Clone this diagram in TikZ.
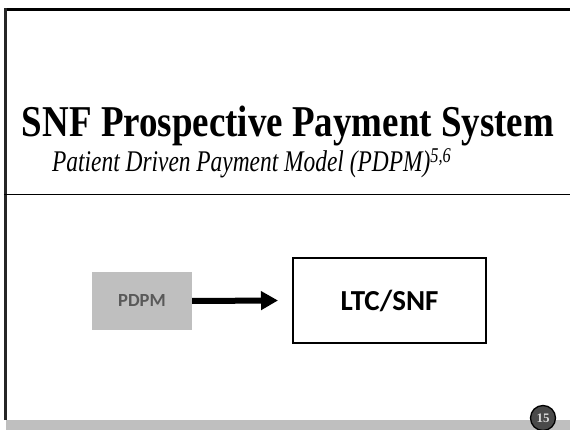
\documentclass[tikz,border=0pt]{standalone}
\usepackage{fontspec}
\setmainfont{Liberation Serif}
\newfontfamily\calibri{Carlito}
\usetikzlibrary{arrows.meta}
\definecolor{barGray}{HTML}{BFBFBF}
\definecolor{boxGray}{HTML}{BFBFBF}
\definecolor{labelGray}{HTML}{595959}
\definecolor{badgeFill}{HTML}{4A4A4A}
\definecolor{badgeText}{HTML}{D9D9D9}
\tikzset{
  frameline/.style={line width=2.5pt, black},
  graybox/.style={fill=boxGray, draw=none, minimum width=100pt, minimum height=58pt,
    font=\calibri\bfseries\fontsize{18.5}{20}\selectfont, text=labelGray},
  whitebox/.style={draw=black, line width=2pt, fill=white, minimum width=193pt, minimum height=85pt,
    font=\calibri\bfseries\fontsize{29}{32}\selectfont},
  flowarrow/.style={line width=6pt, -{Triangle[length=17pt,width=18pt]}},
}
\begin{document}
\begin{tikzpicture}[x=1pt,y=-1pt]
  \useasboundingbox (0,0) rectangle (570,430);
  \fill[white] (0,0) rectangle (570,430);
  % footer bar
  \fill[barGray] (6,420) rectangle (570,430);
  % slide frame
  \draw[frameline] (5.5,9.5) -- (570,9.5);
  \draw[frameline, black!85] (5.5,8.5) -- (5.5,420);
  \draw[line width=1pt] (4,195) -- (570,195);
  % title block
  \node[anchor=base, inner sep=0pt, xscale=0.84, transform shape,
        font=\bfseries\fontsize{44}{48}\selectfont] (title) at (288,137)
        {SNF Prospective Payment System};
  \node[anchor=base west, inner sep=0pt, xscale=0.78, transform shape,
        font=\itshape\fontsize{30}{34}\selectfont] (subtitle) at (52,172)
        {Patient Driven Payment Model (PDPM)\textsuperscript{5,6}};
  % diagram
  \node[graybox] (pdpm) at (142,301) {PDPM};
  \node[whitebox] (ltc) at (389.5,300.5) {LTC/SNF};
  \draw[flowarrow] (pdpm.east) -- ([xshift=-14pt]ltc.west);
  % page badge
  \node[circle, draw=black, line width=1.3pt, fill=badgeFill, minimum size=25pt, inner sep=0pt,
        text=badgeText, font=\bfseries\fontsize{13}{14}\selectfont] (page) at (543,418) {15};
\end{tikzpicture}
\end{document}
